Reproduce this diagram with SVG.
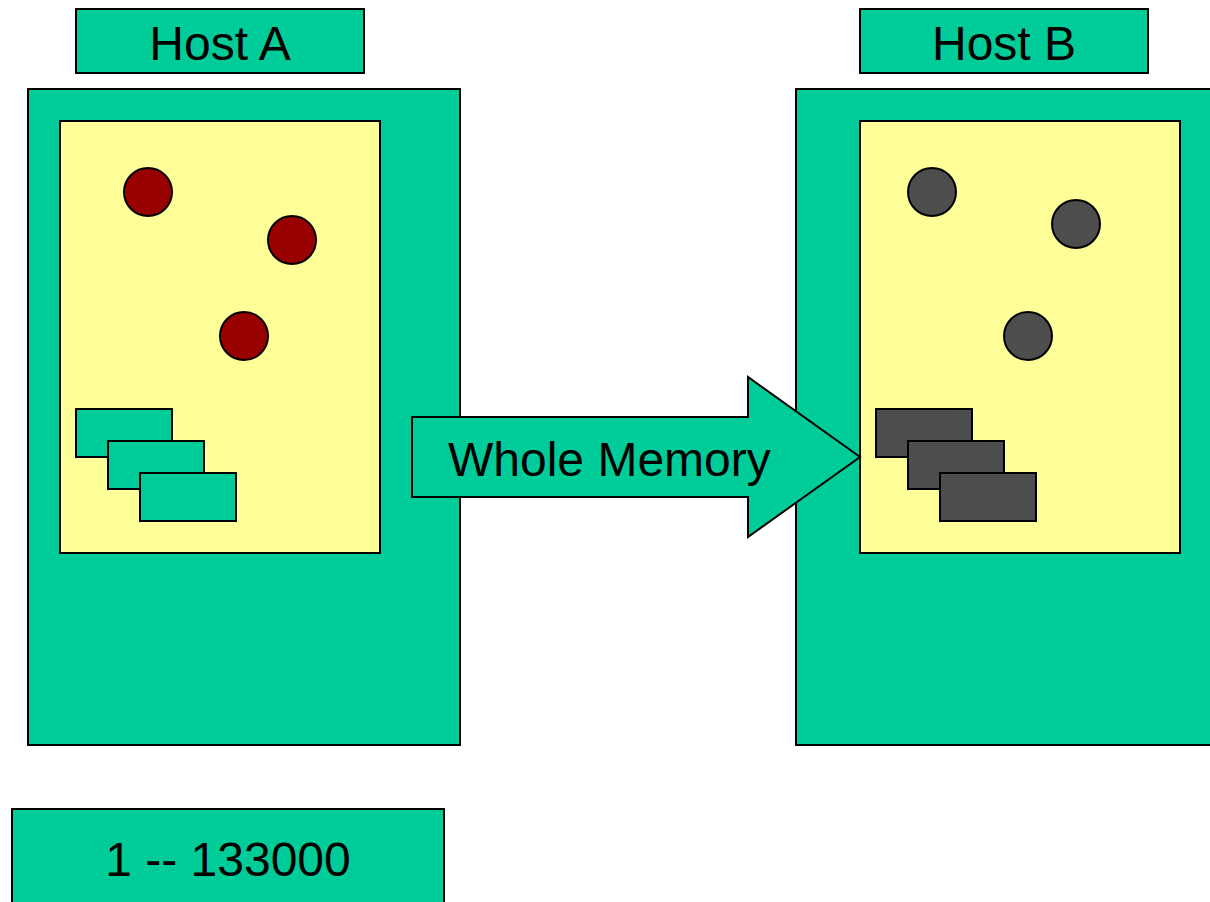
<svg xmlns="http://www.w3.org/2000/svg" width="1210" height="902" viewBox="0 0 1210 902">
  <style>
    .green { fill: #00cc99; stroke: #000; stroke-width: 2; }
    .mem { fill: #ffff99; stroke: #000; stroke-width: 2; }
    .red { fill: #990000; stroke: #000; stroke-width: 2; }
    .gray { fill: #4d4d4d; stroke: #000; stroke-width: 2; }
    .lbl { font-family: "Liberation Sans", Arial, sans-serif; font-size: 48px; fill: #000; }
  </style>
  <rect width="1210" height="902" fill="#fff"/>

  <!-- Host A -->
  <g id="hostA-label">
    <rect class="green" x="76" y="9" width="288" height="64"/>
    <text class="lbl" x="220" y="60" text-anchor="middle">Host A</text>
  </g>
  <g id="hostA">
    <rect class="green" x="28" y="89" width="432" height="656"/>
    <rect class="mem" x="60" y="121" width="320" height="432"/>
    <circle class="red" cx="148" cy="192" r="24"/>
    <circle class="red" cx="292" cy="240" r="24"/>
    <circle class="red" cx="244" cy="336" r="24"/>
    <rect class="green" x="76" y="409" width="96" height="48"/>
    <rect class="green" x="108" y="441" width="96" height="48"/>
    <rect class="green" x="140" y="473" width="96" height="48"/>
  </g>

  <!-- Host B -->
  <g id="hostB-label">
    <rect class="green" x="860" y="9" width="288" height="64"/>
    <text class="lbl" x="1004" y="60" text-anchor="middle">Host B</text>
  </g>
  <g id="hostB">
    <rect class="green" x="796" y="89" width="432" height="656"/>
    <rect class="mem" x="860" y="121" width="320" height="432"/>
    <circle class="gray" cx="932" cy="192" r="24"/>
    <circle class="gray" cx="1076" cy="224" r="24"/>
    <circle class="gray" cx="1028" cy="336" r="24"/>
    <rect class="gray" x="876" y="409" width="96" height="48"/>
    <rect class="gray" x="908" y="441" width="96" height="48"/>
    <rect class="gray" x="940" y="473" width="96" height="48"/>
  </g>

  <!-- Transfer arrow -->
  <g id="connectors">
    <g id="whole-memory">
      <polygon class="green" points="412,417 748,417 748,377 860,457 748,537 748,497 412,497"/>
      <text class="lbl" x="448" y="476">Whole Memory</text>
    </g>
  </g>

  <!-- Page range -->
  <g id="range">
    <rect class="green" x="12" y="809" width="432" height="120"/>
    <text class="lbl" x="228" y="876" text-anchor="middle">1 -- 133000</text>
  </g>
</svg>
